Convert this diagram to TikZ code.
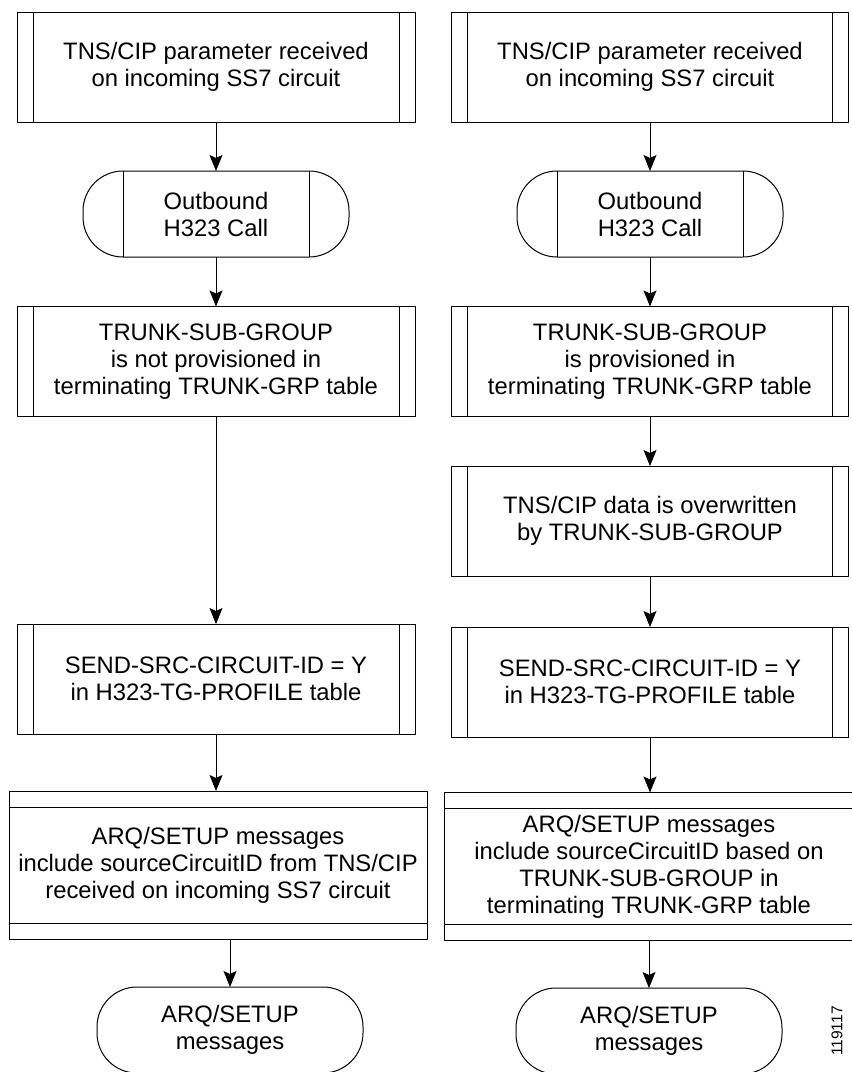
\documentclass[tikz,border=0pt]{standalone}
\usepackage{fontspec}
\setmainfont{Liberation Sans}
\usetikzlibrary{arrows.meta}

\tikzset{
	box/.style={draw, line width=1pt, align=center, inner sep=0pt, outer sep=0pt,
		font=\fontsize{23.8pt}{27pt}\selectfont},
	subproc/.style={box, minimum width=#1, minimum height=110pt,
		path picture={
			\draw[line width=1pt] ([xshift=16pt]path picture bounding box.north west)
				-- ([xshift=16pt]path picture bounding box.south west);
			\draw[line width=1pt] ([xshift=-16pt]path picture bounding box.north east)
				-- ([xshift=-16pt]path picture bounding box.south east);
		}},
	iobox/.style={box, minimum width=#1, minimum height=148pt,
		path picture={
			\draw[line width=1pt] ([yshift=-16pt]path picture bounding box.north west)
				-- ([yshift=-16pt]path picture bounding box.north east);
			\draw[line width=1pt] ([yshift=16pt]path picture bounding box.south west)
				-- ([yshift=16pt]path picture bounding box.south east);
		}},
	term/.style={box, minimum width=266pt, minimum height=86pt, rounded corners=40pt},
	termbar/.style={term,
		path picture={
			\draw[line width=1pt] ([xshift=40pt]path picture bounding box.north west)
				-- ([xshift=40pt]path picture bounding box.south west);
			\draw[line width=1pt] ([xshift=-40pt]path picture bounding box.north east)
				-- ([xshift=-40pt]path picture bounding box.south east);
		}},
}

\begin{document}
\begin{tikzpicture}[
	x=1pt,
	y=-1pt,
	line join=round,
	>={Stealth[length=16pt,width=13pt,inset=3pt]},
	]
\useasboundingbox (0,0) rectangle (852,1072);
% left column
\node[subproc=398pt] (in1) at (216,67) {TNS/CIP parameter received\\on incoming SS7 circuit};
\node[termbar] (out1) at (216,214) {Outbound\\H323 Call};
\node[subproc=398pt] (trk1) at (216,361.5) {TRUNK-SUB-GROUP\\is not provisioned in\\terminating TRUNK-GRP table};
\node[subproc=398pt] (send1) at (216,679) {SEND-SRC-CIRCUIT-ID = Y\\in H323-TG-PROFILE table};
\node[iobox=418pt] (arq1) at (218,865) {ARQ/SETUP messages\\include sourceCircuitID from TNS/CIP\\received on incoming SS7 circuit};
\node[term] (end1) at (230,1030) {ARQ/SETUP\\messages};
% right column
\node[subproc=397pt] (in2) at (650,67) {TNS/CIP parameter received\\on incoming SS7 circuit};
\node[termbar] (out2) at (650,214) {Outbound\\H323 Call};
\node[subproc=397pt] (trk2) at (650,361.5) {TRUNK-SUB-GROUP\\is provisioned in\\terminating TRUNK-GRP table};
\node[subproc=397pt] (ovr2) at (650,521) {TNS/CIP data is overwritten\\by TRUNK-SUB-GROUP};
\node[subproc=397pt] (send2) at (650,682) {SEND-SRC-CIRCUIT-ID = Y\\in H323-TG-PROFILE table};
\node[iobox=410pt] (arq2) at (649,866.5) {ARQ/SETUP messages\\include sourceCircuitID based on\\TRUNK-SUB-GROUP in\\terminating TRUNK-GRP table};
\node[term] (end2) at (649,1031) {ARQ/SETUP\\messages};
\foreach \a/\b in {in1/out1, out1/trk1, trk1/send1, send1/arq1,
	in2/out2, out2/trk2, trk2/ovr2, ovr2/send2, send2/arq2}
	\draw[->, line width=0.9pt] (\a) -- (\a |- \b.north);
\foreach \a/\b in {arq1/end1, arq2/end2}
	\draw[->, line width=0.9pt] (\a.south -| \b) -- (\b);
\node[rotate=90, font=\fontsize{15.6pt}{18pt}\selectfont] (fig) at (837,1031) {119117};
\end{tikzpicture}
\end{document}
